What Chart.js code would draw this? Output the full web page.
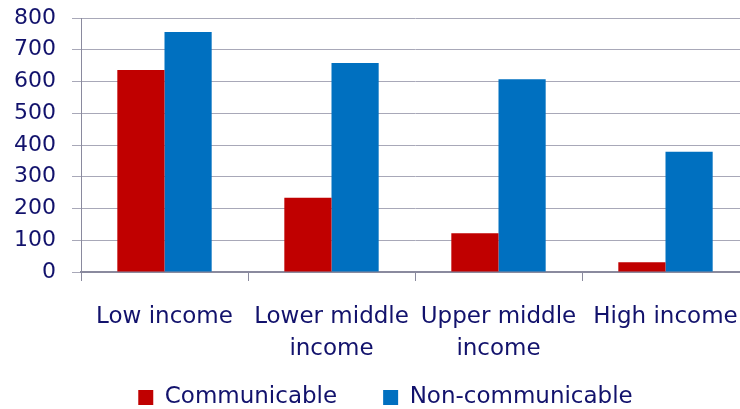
<!DOCTYPE html>
<html>
<head>
<meta charset="utf-8">
<script src="https://cdn.jsdelivr.net/npm/chart.js@4"></script>
<style>
  html, body { margin: 0; padding: 0; background: #fff; overflow: hidden; }
  #wrap { position: relative; width: 792px; height: 419px; }
</style>
</head>
<body>
<div id="wrap"><canvas id="chart"></canvas></div>
<script>
const categories = [["Low income"], ["Lower middle", "income"], ["Upper middle", "income"], ["High income"]];
const communicable = [636, 234, 122, 31];
const nonCommunicable = [756, 658, 607, 379];
const yTicks = [0, 100, 200, 300, 400, 500, 600, 700, 800];

const textColor = "#12126c";
const gridColor = "#a8a8b8";
const axisColor = "#8a8a9e";
const yFont = { family: "DejaVu Sans", size: 22 };
const xFont = { family: "DejaVu Sans", size: 23, lineHeight: 1.39 };
const legendFont = { family: "DejaVu Sans", size: 23 };

// labels may run outside their axis box
function noLabelClip(axis) {
  axis._computeLabelArea = function () { return undefined; };
}

const ctx = document.querySelector("#chart").getContext("2d");
new Chart(ctx, {
  type: "bar",
  data: {
    labels: categories,
    datasets: [{
      label: "Communicable",
      data: communicable,
      backgroundColor: "#c00000",
      borderWidth: 0,
    }, {
      label: "Non-communicable",
      data: nonCommunicable,
      backgroundColor: "#0070c0",
      borderWidth: 0,
    }],
  },
  options: {
    responsive: true,
    maintainAspectRatio: false,
    animation: false,
    categoryPercentage: 0.565,
    barPercentage: 1,
    layout: { padding: { top: 18, right: 43, bottom: 0, left: 22 } },
    plugins: {
      tooltip: { enabled: false },
      legend: {
        position: "bottom",
        labels: {
          color: textColor,
          font: legendFont,
          boxWidth: 15,
          boxHeight: 15,
          padding: 46,
        },
      },
    },
    scales: {
      x: {
        afterFit: function (axis) {
          axis.height = 68;
          noLabelClip(axis);
        },
        grid: { drawOnChartArea: false, color: axisColor, tickLength: 9, offset: true },
        border: { color: axisColor, width: 2 },
        ticks: { color: textColor, font: xFont, padding: 20, maxRotation: 0 },
      },
      y: {
        min: 0,
        max: 800,
        afterFit: function (axis) {
          axis.width = 59;
          axis.paddingTop = 0;
          axis.paddingBottom = 0;
          noLabelClip(axis);
        },
        afterBuildTicks: function (axis) { axis.ticks = yTicks.map(v => ({ value: v })); },
        grid: { color: gridColor, tickLength: 9 },
        border: { color: axisColor, width: 1 },
        ticks: { color: textColor, font: yFont, padding: 16 },
      },
    },
  },
});
</script>
</body>
</html>
